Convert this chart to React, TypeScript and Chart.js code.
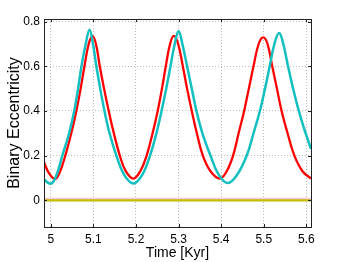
import React, { useEffect, useRef } from "react";
import { Chart, registerables } from "chart.js";

Chart.register(...registerables);

const redTime = [4.984, 4.996, 5.01, 5.021, 5.034, 5.048, 5.06, 5.07, 5.079, 5.089, 5.098, 5.106, 5.115, 5.125, 5.136, 5.148, 5.162, 5.176, 5.194, 5.21, 5.225, 5.239, 5.251, 5.261, 5.27, 5.28, 5.289, 5.299, 5.31, 5.32, 5.331, 5.343, 5.357, 5.375, 5.397, 5.413, 5.428, 5.441, 5.454, 5.465, 5.476, 5.488, 5.499, 5.509, 5.52, 5.531, 5.542, 5.556, 5.572, 5.591, 5.611];
const redEcc = [0.17, 0.12, 0.095, 0.125, 0.2, 0.3, 0.4, 0.5, 0.6, 0.7, 0.735, 0.7, 0.6, 0.5, 0.4, 0.3, 0.2, 0.13, 0.097, 0.13, 0.2, 0.3, 0.4, 0.5, 0.6, 0.7, 0.736, 0.7, 0.6, 0.5, 0.4, 0.3, 0.2, 0.13, 0.097, 0.13, 0.2, 0.3, 0.4, 0.5, 0.6, 0.7, 0.73, 0.7, 0.6, 0.5, 0.4, 0.3, 0.2, 0.13, 0.097];

const cyanTime = [4.984, 5.0, 5.012, 5.027, 5.043, 5.055, 5.064, 5.072, 5.082, 5.091, 5.099, 5.107, 5.116, 5.126, 5.138, 5.154, 5.172, 5.194, 5.215, 5.233, 5.248, 5.26, 5.271, 5.281, 5.291, 5.3, 5.309, 5.32, 5.331, 5.342, 5.356, 5.375, 5.394, 5.416, 5.438, 5.46, 5.476, 5.491, 5.503, 5.514, 5.525, 5.536, 5.546, 5.557, 5.569, 5.581, 5.595, 5.611];
const cyanEcc = [0.092, 0.074, 0.105, 0.2, 0.3, 0.4, 0.5, 0.6, 0.7, 0.764, 0.7, 0.6, 0.5, 0.4, 0.3, 0.2, 0.115, 0.075, 0.115, 0.2, 0.3, 0.4, 0.5, 0.6, 0.7, 0.757, 0.7, 0.6, 0.5, 0.4, 0.3, 0.2, 0.115, 0.077, 0.115, 0.2, 0.3, 0.4, 0.5, 0.6, 0.7, 0.749, 0.7, 0.6, 0.5, 0.41, 0.32, 0.23];

const flatTime = [4.984, 5.611];
const pinkEcc = [0.008, 0.008];
const yellowEcc = [0.0, 0.0];

const xTicks = [5, 5.1, 5.2, 5.3, 5.4, 5.5, 5.6];
const yTicks = [0, 0.2, 0.4, 0.6, 0.8];

const FONT = "'Liberation Sans', Arial, Helvetica, sans-serif";

const zip = (xs: number[], ys: number[]) => xs.map((x, i) => ({ x, y: ys[i] }));

const framePlugin = {
  id: "frame",
  afterDraw(chart: any) {
    const { ctx, chartArea: a, scales } = chart;
    ctx.save();
    ctx.strokeStyle = "#222";
    ctx.lineWidth = 1;
    ctx.strokeRect(Math.round(a.left) + 0.5, Math.round(a.top) + 0.5, Math.round(a.right - a.left), Math.round(a.bottom - a.top));
    const L = 3;
    ctx.beginPath();
    xTicks.forEach((v) => {
      const px = Math.round(scales.x.getPixelForValue(v)) + 0.5;
      ctx.moveTo(px, a.bottom);
      ctx.lineTo(px, a.bottom - L);
      ctx.moveTo(px, a.top);
      ctx.lineTo(px, a.top + L);
    });
    yTicks.forEach((v) => {
      const py = Math.round(scales.y.getPixelForValue(v)) + 0.5;
      ctx.moveTo(a.left, py);
      ctx.lineTo(a.left + L, py);
      ctx.moveTo(a.right, py);
      ctx.lineTo(a.right - L, py);
    });
    ctx.stroke();
    ctx.restore();
  },
};

export default function App() {
  const ref = useRef<HTMLCanvasElement>(null);
  useEffect(() => {
    if (!ref.current) return;
    const chart = new Chart(ref.current, {
      type: "line",
      data: {
        datasets: [
          { data: zip(cyanTime, cyanEcc), borderColor: "#14bfbf", borderWidth: 2.5, pointRadius: 0, tension: 0.4 },
          { data: zip(redTime, redEcc), borderColor: "#ff0000", borderWidth: 2.3, pointRadius: 0, tension: 0.4 },
          { data: zip(flatTime, pinkEcc), borderColor: "#f5c8d6", borderWidth: 1.5, pointRadius: 0 },
          { data: zip(flatTime, yellowEcc), borderColor: "#c2c000", borderWidth: 2.5, pointRadius: 0 },
        ],
      } as any,
      options: {
        animation: false,
        responsive: false,
        maintainAspectRatio: false,
        layout: { padding: { top: 19, right: 32, left: 0, bottom: 0 } },
        plugins: { legend: { display: false }, tooltip: { enabled: false } },
        scales: {
          x: {
            type: "linear",
            min: 4.984,
            max: 5.611,
            afterFit: (s: any) => { s.height = 35; },
            afterBuildTicks: (s: any) => { s.ticks = xTicks.map((v) => ({ value: v })); },
            grid: { color: "#bcbcbc", drawTicks: false, lineWidth: 1 },
            border: { display: false, dash: [1, 2] },
            ticks: { color: "#000", font: { family: FONT, size: 12 }, padding: 5, maxRotation: 0, callback: (v: any) => String(v) },
            title: { display: true, text: "Time [Kyr]", color: "#000", font: { family: FONT, size: 14 }, padding: { top: 0, bottom: 0 } },
          },
          y: {
            type: "linear",
            min: -0.12,
            max: 0.812,
            afterFit: (s: any) => { s.width = 44; },
            afterBuildTicks: (s: any) => { s.ticks = yTicks.map((v) => ({ value: v })); },
            grid: { color: "#bcbcbc", drawTicks: false, lineWidth: 1 },
            border: { display: false, dash: [1, 2] },
            ticks: { color: "#000", font: { family: FONT, size: 12 }, padding: 4, callback: (v: any) => String(v) },
            title: { display: true, text: "Binary Eccentricity", color: "#000", font: { family: FONT, size: 16 }, padding: { top: 5, bottom: 0 } },
          },
        },
      } as any,
      plugins: [framePlugin],
    });
    return () => chart.destroy();
  }, []);
  return (
    <div style={{ position: "absolute", left: 0, top: 0, width: 343, height: 262, background: "#fff" }}>
      <canvas ref={ref} width={343} height={262} style={{ width: 343, height: 262, display: "block" }} />
    </div>
  );
}
